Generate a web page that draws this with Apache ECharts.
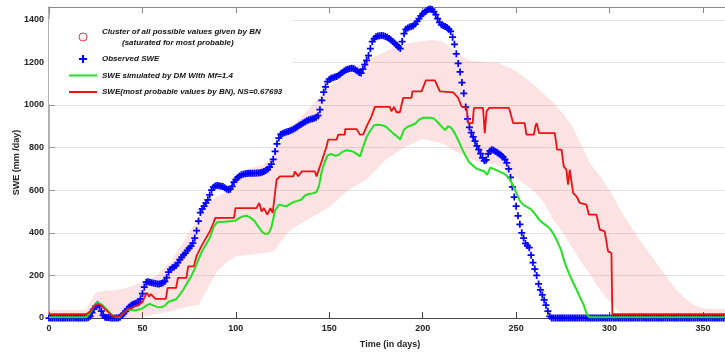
<!DOCTYPE html>
<html>
<head>
<meta charset="utf-8">
<script src="https://cdn.jsdelivr.net/npm/echarts@6/dist/echarts.min.js"></script>
<style>
  html, body { margin: 0; padding: 0; background: #fff; }
  #chart { width: 725px; height: 354px; }
</style>
</head>
<body>
<div id="chart"></div>
<script>
// observed SWE, one value per day (index = day 0..365)
const obsSwe = [
  0, 0, 0, 0, 0, 0, 0, 0, 0, 0,
  0, 0, 0, 0, 0, 0, 0, 0, 0, 0,
  0, 2, 8, 25, 42, 55, 62, 55, 32, 12,
  4, 2, 2, 0, 0, 0, 0, 0, 3, 12,
  22, 32, 42, 52, 60, 64, 68, 70, 72, 90,
  115, 145, 168, 170, 168, 165, 163, 162, 160, 160,
  162, 165, 172, 190, 215, 228, 236, 240, 246, 260,
  274, 285, 296, 305, 318, 328, 338, 352, 375, 410,
  455, 495, 512, 525, 540, 555, 578, 600, 614, 620,
  622, 621, 619, 617, 612, 606, 602, 605, 618, 638,
  650, 660, 667, 672, 675, 677, 678, 679, 679, 680,
  680, 681, 681, 682, 684, 688, 692, 698, 708, 722,
  745, 782, 818, 845, 862, 866, 870, 873, 876, 879,
  883, 887, 892, 898, 905, 910, 915, 920, 926, 930,
  933, 935, 938, 942, 950, 978, 1022, 1060, 1085, 1110,
  1120, 1125, 1128, 1131, 1134, 1140, 1146, 1152, 1160, 1165,
  1168, 1171, 1173, 1171, 1166, 1160, 1153, 1150, 1168, 1190,
  1210, 1232, 1265, 1298, 1312, 1320, 1324, 1325, 1326, 1325,
  1322, 1318, 1312, 1305, 1298, 1290, 1282, 1272, 1265, 1298,
  1335, 1355, 1362, 1366, 1369, 1372, 1380, 1392, 1406, 1418,
  1428, 1436, 1442, 1448, 1451, 1448, 1438, 1424, 1405, 1388,
  1377, 1372, 1369, 1364, 1356, 1345, 1318, 1285, 1240, 1195,
  1155, 1105, 1055, 990, 935, 895, 870, 850, 830, 808,
  790, 772, 752, 738, 742, 770, 784, 790, 788, 782,
  776, 770, 764, 756, 745, 728, 700, 660, 615, 568,
  525, 480, 440, 400, 375, 350, 340, 330, 295, 260,
  230, 200, 160, 132, 108, 85, 60, 32, 8, 0,
  0, 0, 0, 0, 0, 0, 0, 0, 0, 0,
  0, 0, 0, 0, 0, 0, 0, 0, 0, 0,
  0, 0, 0, 0, 0, 0, 0, 0, 0, 0,
  0, 0, 0, 0, 0, 0, 0, 0, 0, 0,
  0, 0, 0, 0, 0, 0, 0, 0, 0, 0,
  0, 0, 0, 0, 0, 0, 0, 0, 0, 0,
  0, 0, 0, 0, 0, 0, 0, 0, 0, 0,
  0, 0, 0, 0, 0, 0, 0, 0, 0, 0,
  0, 0, 0, 0, 0, 0, 0, 0, 0, 0,
  0, 0, 0, 0, 0, 0
]

// degree-day model (DM, Mf=1.4)
const dmDay = [0, 20, 22, 24, 26, 28, 30, 32, 34, 36, 38, 40, 42, 44, 46, 48, 50, 52, 54, 56, 58, 60, 62, 64, 66, 68,
  70, 72, 74, 76, 78, 80, 82, 84, 86, 88, 90, 94, 98, 100, 102, 104, 106, 108, 110, 112, 114, 115.5, 117.5, 119,
  121, 123, 125, 127, 129, 131, 133, 135, 137, 139, 141, 143, 144.5, 146, 147.5, 149, 151, 153, 155, 157, 159,
  161, 163, 165, 166.5, 168, 170, 172, 174, 176, 178, 180, 182, 184, 186, 188, 189, 190, 192, 194, 196, 198, 200,
  204, 206, 208, 210, 212, 213.5, 215, 217, 219, 221, 223, 225, 227, 229, 231, 233, 234.5, 236, 238, 240, 242,
  244, 246, 248, 250, 252, 254, 256, 258, 260, 262, 264, 266, 268, 270, 272, 274, 276, 278, 280, 282, 284, 286,
  287.5, 289, 365]
const dmSwe = [3, 3, 25, 55, 72, 65, 48, 30, 12, 3, 5, 25, 40, 38, 35, 40, 45, 58, 66, 58, 52, 50, 58, 76, 82, 88,
  110, 135, 165, 195, 230, 275, 315, 345, 375, 425, 450, 452, 455, 458, 470, 478, 480, 470, 455, 430, 405, 395, 397, 425,
  505, 532, 528, 524, 535, 545, 550, 555, 575, 582, 585, 590, 620, 690, 730, 762, 770, 762, 765, 780, 787,
  785, 780, 768, 759, 800, 850, 880, 905, 907, 905, 900, 885, 868, 855, 838, 840, 885, 898, 905, 912, 930, 940,
  940, 936, 920, 900, 882, 900, 895, 870, 835, 795, 760, 730, 715, 700, 695, 688, 672, 705, 700, 692, 684,
  675, 660, 628, 590, 550, 530, 520, 510, 490, 465, 448, 435, 420, 395, 360, 320, 260, 215, 175, 140, 100, 65,
  25, 3, 3]

// most probable values by BN
const bnDay = [0, 20, 22, 24, 26, 28, 30, 32, 34, 36, 38, 40, 42, 44, 46, 48, 50, 51.5, 52.5, 53.5, 54.5, 55.5, 57,
  62.5, 63.5, 68, 69, 73.5, 74.5, 77.5, 79, 81.5, 83.5, 86, 88, 89, 99, 99.8, 111, 112.5, 113.8, 115, 116.8, 118.5,
  119.7, 121.8, 123.6, 130.7, 131.6, 133.4, 135.2, 142.3, 143.2, 145.9, 148.6, 149.4, 153.9, 154.8, 158.3, 158.5,
  164.6, 166.4, 168.1, 170, 172.6, 174.4, 182.4, 183.3, 184.6, 186, 187.8, 189.5, 194, 194.5, 199.4, 201.7, 206.5,
  209.2, 216.3, 219, 220.8, 223.5, 224.3, 226.7, 227.4, 232.3, 233.2, 234.2, 235.5, 246.2, 248.4, 254.6, 255.5,
  259.5, 260.3, 261, 262.3, 270.7, 271.9, 274.3, 275.5, 276.9, 277.8, 278.7, 280.5, 282.3, 284.1, 287.6, 289, 293,
  294.8, 297.4, 299.2, 301, 301.5, 365]
const bnSwe = [18, 18, 30, 55, 65, 58, 42, 25, 10, 5, 8, 25, 40, 45, 55, 62, 75, 105, 118, 100, 112, 108, 90,
  90, 141, 141, 188, 188, 242, 242, 292, 336, 368, 405, 446, 470, 470, 516, 516, 540, 500, 516, 485, 516,
  493, 649, 665, 665, 688, 665, 688, 688, 665, 735, 806, 837, 837, 861, 861, 887,
  887, 861, 861, 900, 947, 991, 991, 970, 991, 966, 966, 1033, 1033, 1064, 1064, 1116, 1116,
  1064, 1059, 1033, 993, 986, 915, 915, 986, 986, 868, 970, 986, 986, 915, 915, 861,
  861, 900, 915, 868, 868, 790, 790, 712, 696, 626, 696, 587, 571, 540, 532, 485, 485,
  415, 407, 313, 305, 18, 18]

// cluster of all possible BN values: lower and upper edge
const bandDay = [0, 5, 10, 15, 20, 25, 30, 35, 40, 45, 50, 55, 60, 65, 70, 75, 80, 85, 90, 95, 100, 105, 110, 115,
  120, 125, 130, 135, 140, 145, 150, 155, 160, 165, 170, 175, 180, 185, 190, 195, 200, 205, 210, 215, 220, 225,
  230, 235, 240, 245, 250, 255, 260, 265, 270, 275, 280, 285, 290, 295, 300, 305, 310, 315, 320, 325, 330, 335,
  340, 345, 350, 355, 360, 365]
const bandLow = [0, 0, 0, 0, 0, 0, 0, 0, 0, 0, 5, 15, 22, 30, 45, 55, 60, 140, 220, 260, 290, 295, 300, 305,
  310, 370, 420, 445, 470, 495, 520, 560, 600, 625, 650, 695, 740, 770, 800, 820, 840, 830, 820, 795, 770, 750,
  730, 725, 720, 690, 660, 625, 590, 540, 460, 400, 330, 260, 200, 130, 80, 30, 0, 0, 0, 0, 0, 0,
  0, 0, 0, 0, 0, 0]
const bandHigh = [38, 38, 38, 38, 40, 120, 128, 130, 138, 150, 168, 185, 220, 260, 330, 400, 470, 540, 570, 590, 640, 690, 710, 720,
  760, 840, 900, 945, 990, 1040, 1085, 1120, 1150, 1180, 1210, 1230, 1250, 1270, 1285, 1295, 1300, 1305, 1300, 1270, 1235, 1210,
  1205, 1200, 1200, 1180, 1160, 1125, 1090, 1050, 1010, 960, 900, 810, 720, 665, 600, 520, 450, 380, 320, 258, 200, 140,
  95, 62, 46, 42, 42, 42]

const nameCluster = 'Cluster of all possible values given by BN\n         (saturated for most probable)'
const nameObs = 'Observed SWE'
const nameDm = 'SWE simulated by DM With Mf=1.4'
const nameBn = 'SWE(most probable values by BN), NS=0.67693'

const plusPath = 'path://M3,0h2v3h3v2h-3v3h-2v-3h-3v-2h3z'
const linePath = 'path://M0,0H28V2H0Z'
const font = 'Liberation Sans, Arial, sans-serif'

// band polygon: upper edge left to right, lower edge back
const renderBand = (params, api) => {
  const pts = []
  bandDay.forEach((d, i) => pts.push(api.coord([d, bandHigh[i]])))
  for (let i = bandDay.length - 1; i >= 0; i--) pts.push(api.coord([bandDay[i], bandLow[i]]))
  return {
    type: 'polygon',
    shape: { points: pts },
    style: { fill: 'rgba(242,110,110,0.2)' },
    silent: true
  }
}

const chart = echarts.init(document.getElementById('chart'))

chart.setOption({
  animation: false,
  backgroundColor: '#fff',
  grid: { left: 49, top: 7, right: -6, bottom: 36, outerBoundsMode: 'none' },
  legend: {
    left: 49,
    top: 19,
    orient: 'vertical',
    backgroundColor: '#fff',
    padding: [7, 10, 7, 20],
    itemWidth: 28,
    itemHeight: 8,
    itemGap: 5.5,
    textStyle: {
      fontFamily: font, fontSize: 8, fontWeight: 'bold', fontStyle: 'italic',
      color: '#111', lineHeight: 11
    },
    data: [
      { name: nameCluster, icon: 'circle', itemStyle: { color: 'transparent', borderColor: '#e8384a', borderWidth: 1 } },
      { name: nameObs, icon: plusPath, itemStyle: { color: '#0000ff' } },
      { name: nameDm, icon: linePath, itemStyle: { color: '#22e022' } },
      { name: nameBn, icon: linePath, itemStyle: { color: '#ee1111' } }
    ]
  },
  xAxis: [
    {
      type: 'value', min: 0, max: 365, interval: 50,
      name: 'Time (in days)', nameLocation: 'middle', nameGap: 22,
      nameTextStyle: { fontFamily: font, fontSize: 9, fontWeight: 'bold', color: '#222' },
      axisLine: { lineStyle: { color: '#444', width: 1.2 } },
      axisTick: { inside: true, length: 6, lineStyle: { color: '#444' } },
      axisLabel: { margin: 6, showMaxLabel: false, fontFamily: font, fontSize: 9, fontWeight: 'bold', color: '#222' },
      splitLine: { show: false }
    },
    {
      type: 'value', min: 0, max: 365, interval: 50, position: 'top',
      axisLine: { show: true, lineStyle: { color: '#888', width: 1.2 } },
      axisTick: { inside: true, length: 6, lineStyle: { color: '#888' } },
      axisLabel: { show: false },
      splitLine: { show: false }
    }
  ],
  yAxis: {
    type: 'value', min: 0, max: 1460, interval: 200,
    name: 'SWE (mm /day)', nameLocation: 'middle', nameGap: 28, nameMoveOverlap: false,
    nameTextStyle: { fontFamily: font, fontSize: 9, fontWeight: 'bold', color: '#222' },
    axisLine: { show: true, lineStyle: { color: '#999', width: 1.5 } },
    axisTick: { show: true, inside: true, length: 6, lineStyle: { color: '#999' } },
    axisLabel: {
      margin: 5, showMaxLabel: false, formatter: v => String(v),
      fontFamily: font, fontSize: 9, fontWeight: 'bold', color: '#222'
    },
    splitLine: { show: true, lineStyle: { color: '#e3e3e3', width: 1 } }
  },
  series: [
    {
      name: nameCluster, type: 'custom', renderItem: renderBand, silent: true,
      itemStyle: { color: '#e8384a' },
      data: [[0, 0]]
    },
    {
      name: nameObs, type: 'scatter', symbol: plusPath, symbolSize: 7,
      itemStyle: { color: '#0000ff', opacity: 1 },
      data: obsSwe.map((v, i) => [i, v])
    },
    {
      name: nameDm, type: 'line', symbol: 'none',
      lineStyle: { color: '#22e022', width: 2 },
      itemStyle: { color: '#22e022' },
      data: dmDay.map((d, i) => [d, dmSwe[i]])
    },
    {
      name: nameBn, type: 'line', symbol: 'none',
      lineStyle: { color: '#ee1111', width: 1.8 },
      itemStyle: { color: '#ee1111' },
      data: bnDay.map((d, i) => [d, bnSwe[i]])
    }
  ]
})
</script>
</body>
</html>
